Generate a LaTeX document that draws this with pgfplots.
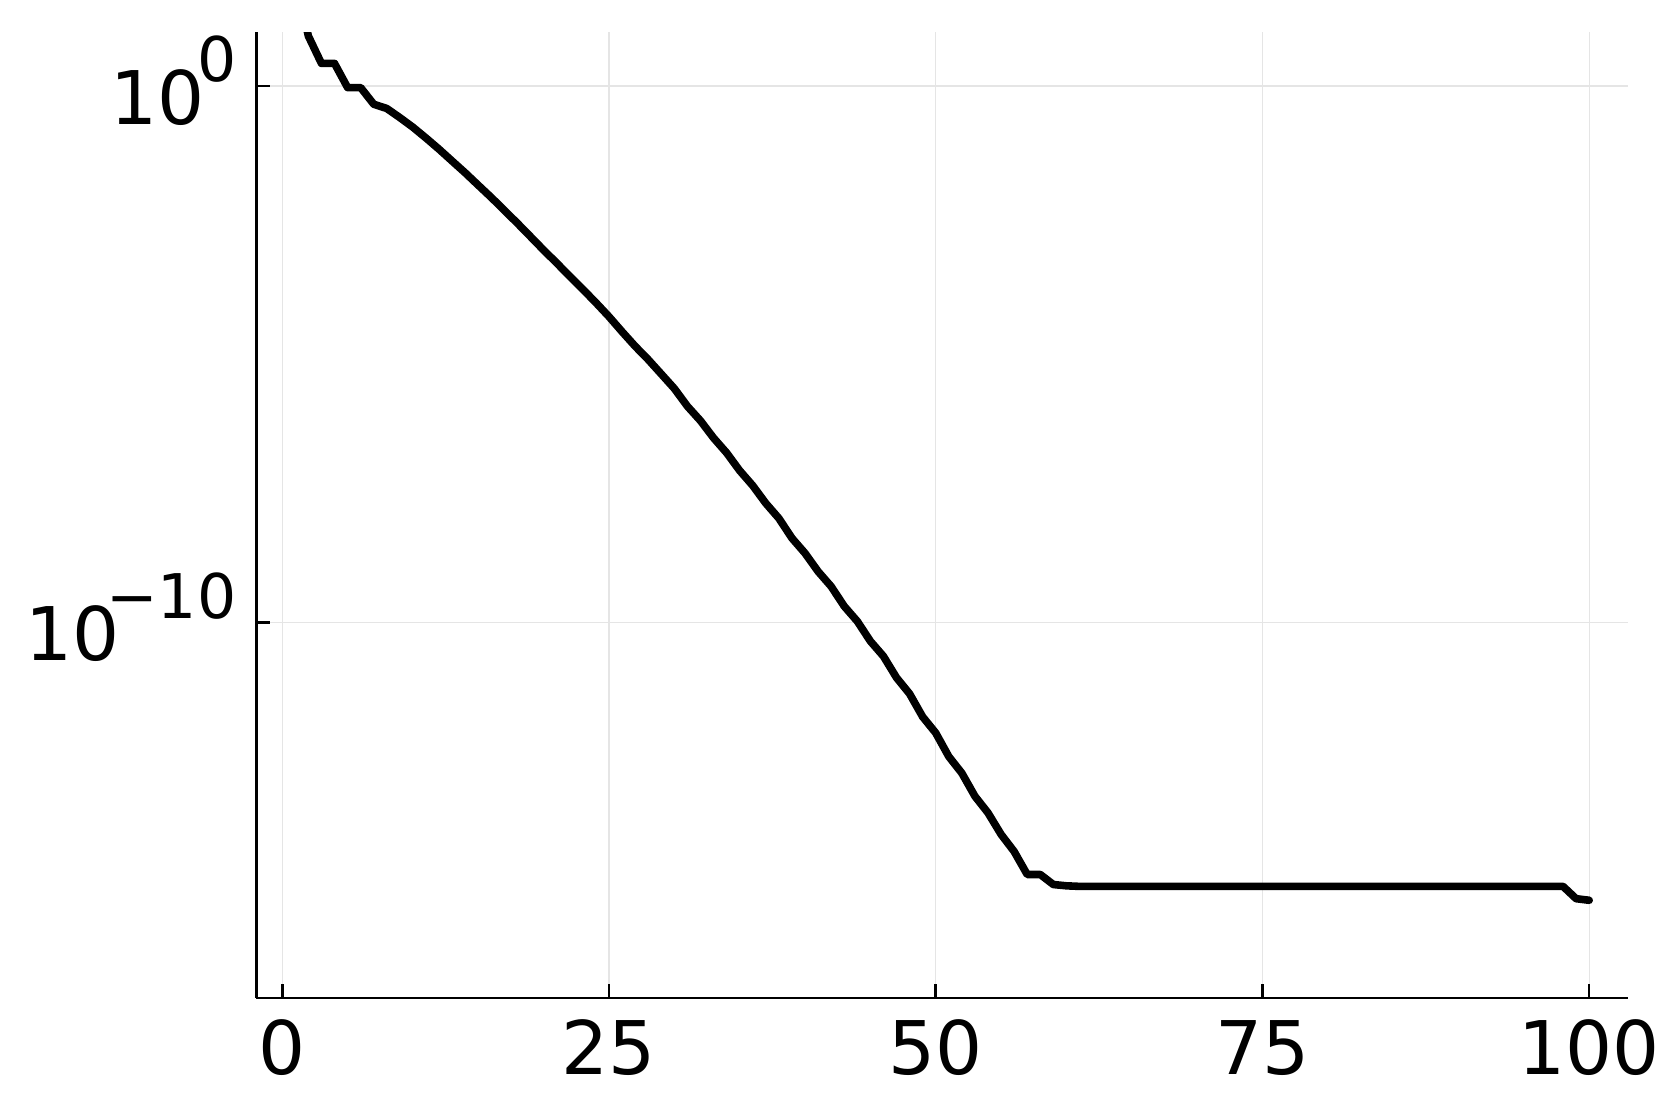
\documentclass[border=0pt]{standalone}
\usepackage{fontspec}
\setmainfont{DejaVu Sans}
\usepackage{pgfplots}
\pgfplotsset{compat=1.18}
\newcommand{\tenpow}[2]{10\kern#1\raisebox{10.6pt}{\fontsize{15.4}{15.4}\selectfont #2}}
\begin{document}
\begin{tikzpicture}
\useasboundingbox (-64.125pt,-27.275pt) rectangle (351.125pt,249.475pt);
\begin{axis}[at={(0pt,0pt)}, anchor=south west, scale only axis,
  width=342.875pt, height=241.4pt,
  xmin=-1.97, xmax=102.97, ymode=log, ymin=1e-17, ymax=1e1,
  axis lines*=left, axis line style={line width=0.65pt, black},
  tick align=inside, major tick length=3.5pt, tick style={line width=0.65pt, black},
  xtick={0,25,50,75,100}, ytick={1e-10,1},
  yticklabels={\tenpow{-3.3pt}{−10},\tenpow{-1.8pt}{0}},
  yminorticks=false, xminorticks=false,
  xmajorgrids, ymajorgrids, grid style={line width=0.3pt, black!10},
  tick label style={font=\fontsize{18.5}{18.5}\selectfont},
  /pgf/number format/assume math mode=true,
  xticklabel style={yshift=-2pt},
  yticklabel style={xshift=-1.5pt, yshift=1.3pt},
]
\addplot[line width=1.9pt, black, line join=round, line cap=round] coordinates {
(1,1e2) (2,8.51e0) (3,2.63e0) (4,2.63e0) (5,9.33e-1) (6,9.33e-1) (7,4.57e-1) (8,3.80e-1)
(9,2.57e-1) (10,1.70e-1) (11,1.07e-1) (12,6.61e-2) (13,3.98e-2) (14,2.40e-2) (15,1.41e-2)
(16,8.32e-3) (17,4.79e-3) (18,2.75e-3) (19,1.55e-3) (20,8.71e-4) (21,5.01e-4) (22,2.82e-4)
(23,1.62e-4) (24,9.12e-5) (25,5.01e-5) (26,2.63e-5) (27,1.41e-5) (28,7.94e-6) (29,4.27e-6)
(30,2.29e-6) (31,1.07e-6) (32,5.75e-7) (33,2.75e-7) (34,1.45e-7) (35,6.76e-8) (36,3.55e-8)
(37,1.66e-8) (38,8.71e-9) (39,3.72e-9) (40,1.95e-9) (41,8.91e-10) (42,4.68e-10) (43,2.00e-10)
(44,1.05e-10) (45,4.47e-11) (46,2.34e-11) (47,9.33e-12) (48,4.68e-12) (49,1.74e-12) (50,8.71e-13)
(51,3.16e-13) (52,1.55e-13) (53,5.75e-14) (54,2.82e-14) (55,1.12e-14) (56,5.37e-15) (57,2.00e-15)
(58,2.00e-15) (59,1.30e-15) (60,1.23e-15) (61,1.20e-15) (62,1.20e-15) (63,1.20e-15) (64,1.20e-15)
(65,1.20e-15) (66,1.20e-15) (67,1.20e-15) (68,1.20e-15) (69,1.20e-15) (70,1.20e-15) (71,1.20e-15)
(72,1.20e-15) (73,1.20e-15) (74,1.20e-15) (75,1.20e-15) (76,1.20e-15) (77,1.20e-15) (78,1.20e-15)
(79,1.20e-15) (80,1.20e-15) (81,1.20e-15) (82,1.20e-15) (83,1.20e-15) (84,1.20e-15) (85,1.20e-15)
(86,1.20e-15) (87,1.20e-15) (88,1.20e-15) (89,1.20e-15) (90,1.20e-15) (91,1.20e-15) (92,1.20e-15)
(93,1.20e-15) (94,1.20e-15) (95,1.20e-15) (96,1.20e-15) (97,1.20e-15) (98,1.20e-15)
(99,7.08e-16) (100,6.61e-16)
};
\end{axis}
\end{tikzpicture}
\end{document}
